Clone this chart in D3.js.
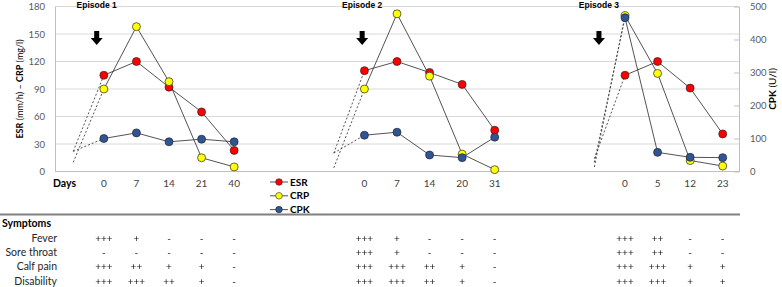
<!DOCTYPE html>
<html>
<head>
<meta charset="utf-8">
<script src="https://cdn.jsdelivr.net/npm/d3@7"></script>
<style>
  body { margin: 0; background: #fff; }
  svg { display: block; font-family: Lato, "Liberation Sans", sans-serif; }
</style>
</head>
<body>
<svg id="chart" width="782" height="287"></svg>
<script>
// data
const episodes = ['Episode 1', 'Episode 2', 'Episode 3'];
const episodeSlot = [0, 8, 16]; // first slot of each episode (the dashed start)
const arrowSlot = [0.78, 0.93, 0.2]; // arrow / label offset inside the lead-in

const days = [
  ['0', '7', '14', '21', '40'],
  ['0', '7', '14', '20', '31'],
  ['0', '5', '12', '23']
];
const esr = [
  [105, 120, 92, 65, 23],
  [110, 120, 108, 95, 45],
  [105, 120, 91, 41]
];
const crp = [
  [90, 158, 98, 15, 5],
  [90, 172, 104, 19, 2],
  [170, 107, 12, 6]
];
const cpk = [
  [100, 117, 90, 98, 90],
  [110, 119, 50, 42, 104],
  [466, 58, 43, 42]
];
// dashed lead-in starting values
const esrStart = [22, 20, 14];
const crpStart = [10, 4, 5];
const cpkStart = [61, 56, 28];

const leftTicks = [0, 30, 60, 90, 120, 150, 180];
const rightTicks = [0, 100, 200, 300, 400, 500];

const symptoms = ['Fever', 'Sore throat', 'Calf pain', 'Disability'];
const symptomScores = [
  [ // episode 1
    ['+++', '+', '-', '-', '-'],
    ['-', '-', '-', '-', '-'],
    ['+++', '++', '+', '+', '-'],
    ['+++', '+++', '++', '+', '-']
  ],
  [ // episode 2
    ['+++', '+', '-', '-', '-'],
    ['+++', '+', '-', '-', '-'],
    ['+++', '+++', '++', '+', '-'],
    ['+++', '+++', '++', '+', '-']
  ],
  [ // episode 3
    ['+++', '++', '-', '-'],
    ['+++', '++', '-', '-'],
    ['+++', '+++', '+', '+'],
    ['+++', '+++', '+', '+']
  ]
];

const series = [
  { name: 'ESR', values: esr, start: esrStart, fill: '#ff0000', axis: 'left' },
  { name: 'CRP', values: crp, start: crpStart, fill: '#ffff00', axis: 'left' },
  { name: 'CPK', values: cpk, start: cpkStart, fill: '#2f5597', axis: 'right' }
];

// scales
const svg = d3.select('#chart');
const plotLeft = 55, plotRight = 739, plotTop = 6.5, plotBottom = 171.5;

const x = d3.scaleLinear().domain([-0.5, 20.5]).range([plotLeft, plotRight]);
const yL = d3.scaleLinear().domain([0, 180]).range([plotBottom, plotTop]);
const yR = d3.scaleLinear().domain([0, 500]).range([plotBottom, plotTop]);
const yOf = s => s.axis === 'left' ? yL : yR;

// plain pass-through filter, keeps the small glyphs grey-scale
svg.append('defs').append('filter').attr('id', 'flat')
  .append('feOffset').attr('dx', 0).attr('dy', 0);

// grid
svg.append('g').selectAll('line')
  .data(leftTicks.slice(1))
  .enter().append('line')
  .attr('x1', plotLeft).attr('x2', plotRight)
  .attr('y1', d => yL(d)).attr('y2', d => yL(d))
  .attr('stroke', '#d9d9d9').attr('stroke-width', 1);

// left axis
const gL = svg.append('g').attr('transform', `translate(${plotLeft},0)`)
  .call(d3.axisLeft(yL).tickValues(leftTicks).tickSize(0).tickPadding(10));
gL.select('.domain').attr('stroke', '#bfbfbf');
gL.selectAll('text').attr('fill', '#595959').style('font-size', '9.5px').style('font-family', 'Lato');

// right axis
const gR = svg.append('g').attr('transform', `translate(${plotRight},0)`)
  .call(d3.axisRight(yR).tickValues(rightTicks).tickSizeInner(-5).tickSizeOuter(0).tickPadding(11));
gR.select('.domain').attr('stroke', '#bfbfbf');
gR.selectAll('line').attr('stroke', '#bfbfbf');
gR.selectAll('text').attr('fill', '#595959').style('font-size', '9.5px').style('font-family', 'Lato');

// baseline
svg.append('line')
  .attr('x1', plotLeft).attr('x2', plotRight)
  .attr('y1', yL(0)).attr('y2', yL(0))
  .attr('stroke', '#bfbfbf');

// axis titles
const titleL = svg.append('text')
  .attr('transform', `translate(23,${(plotTop + plotBottom) / 2}) rotate(-90)`)
  .attr('text-anchor', 'middle')
  .style('font-size', '9px').attr('fill', '#000');
titleL.append('tspan').attr('font-weight', 'bold').text('ESR');
titleL.append('tspan').text(' (mm/h) – ');
titleL.append('tspan').attr('font-weight', 'bold').text('CRP');
titleL.append('tspan').text(' (mg/l)');

const titleR = svg.append('text')
  .attr('transform', `translate(776,${(plotTop + plotBottom) / 2}) rotate(-90)`)
  .attr('text-anchor', 'middle')
  .style('font-size', '10px').attr('fill', '#000');
titleR.append('tspan').attr('font-weight', 'bold').text('CPK');
titleR.append('tspan').text(' (U/l)');

// episodes
const lineGroup = svg.append('g');
const dotGroup = svg.append('g');
const scoreGroup = svg.append('g').attr('filter', 'url(#flat)');

episodes.forEach((ep, e) => {
  const s0 = episodeSlot[e];
  const slot = i => s0 + 1 + i;

  // label + arrow
  const ax = x(s0 + arrowSlot[e]);
  svg.append('text')
    .attr('x', ax).attr('y', 8)
    .attr('text-anchor', 'middle')
    .attr('font-family', 'Liberation Sans, Arial, sans-serif')
    .attr('font-weight', 'bold').style('font-size', '8.5px')
    .text(ep);
  const p = d3.path();
  p.moveTo(ax - 2.5, 31); p.lineTo(ax + 2.5, 31); p.lineTo(ax + 2.5, 38);
  p.lineTo(ax + 6, 38); p.lineTo(ax, 45); p.lineTo(ax - 6, 38);
  p.lineTo(ax - 2.5, 38); p.closePath();
  svg.append('path').attr('d', p.toString()).attr('fill', '#000');

  // day labels
  svg.append('g').selectAll('text')
    .data(days[e]).enter().append('text')
    .attr('x', (d, i) => x(slot(i))).attr('y', 187)
    .attr('text-anchor', 'middle')
    .attr('fill', '#404040').style('font-size', '10px')
    .text(d => d);

  // symptom scores
  symptomScores[e].forEach((row, r) => {
    scoreGroup.append('g').selectAll('text')
      .data(row).enter().append('text')
      .attr('x', (d, i) => x(slot(i))).attr('y', 242 + r * 14.2)
      .attr('text-anchor', 'middle')
      .attr('fill', '#1a1a1a').style('font-size', '10px')
      .text(d => d);
  });

  series.forEach(s => {
    const y = yOf(s);
    const vals = s.values[e];
    // dashed lead-in
    lineGroup.append('line')
      .attr('x1', x(s0 + 0.06)).attr('y1', y(s.start[e]))
      .attr('x2', x(slot(0))).attr('y2', y(vals[0]))
      .attr('stroke', '#404040').attr('stroke-width', 0.9)
      .attr('stroke-dasharray', '2,2');
    // solid line
    lineGroup.append('path')
      .datum(vals)
      .attr('fill', 'none')
      .attr('stroke', '#404040').attr('stroke-width', 0.9)
      .attr('d', d3.line().x((d, i) => x(slot(i))).y(d => y(d)));
  });
});

series.forEach(s => {
  const y = yOf(s);
  episodes.forEach((ep, e) => {
    dotGroup.append('g').selectAll('circle')
      .data(s.values[e]).enter().append('circle')
      .attr('cx', (d, i) => x(episodeSlot[e] + 1 + i))
      .attr('cy', d => y(d))
      .attr('r', 4)
      .attr('fill', s.fill)
      .attr('stroke', '#262626').attr('stroke-width', 0.7);
  });
});

// "Days"
svg.append('text')
  .attr('x', 76).attr('y', 187)
  .attr('text-anchor', 'end')
  .attr('font-weight', 'bold').style('font-size', '10.5px')
  .text('Days');

// legend
const legend = svg.append('g').selectAll('g')
  .data(series).enter().append('g')
  .attr('transform', (d, i) => `translate(270,${182 + i * 13.8})`);
legend.append('line').attr('x1', 0).attr('x2', 18)
  .attr('stroke', '#404040').attr('stroke-width', 0.9);
legend.append('circle').attr('cx', 9).attr('r', 3.3)
  .attr('fill', d => d.fill).attr('stroke', '#262626').attr('stroke-width', 0.6);
legend.append('text').attr('x', 20).attr('dy', '0.35em')
  .attr('font-weight', 'bold').style('font-size', '10px')
  .text(d => d.name);

// separator
svg.append('line')
  .attr('x1', 0).attr('x2', 740)
  .attr('y1', 214.5).attr('y2', 214.5)
  .attr('stroke', '#808080').attr('stroke-width', 2);

// symptoms table labels
svg.append('text')
  .attr('x', 2).attr('y', 227)
  .attr('font-weight', 'bold').style('font-size', '10.5px')
  .text('Symptoms');
svg.append('g').selectAll('text')
  .data(symptoms).enter().append('text')
  .attr('x', 57).attr('y', (d, i) => 242 + i * 14.2)
  .attr('text-anchor', 'end')
  .attr('fill', '#262626').style('font-size', '10.5px')
  .text(d => d);
</script>
</body>
</html>
